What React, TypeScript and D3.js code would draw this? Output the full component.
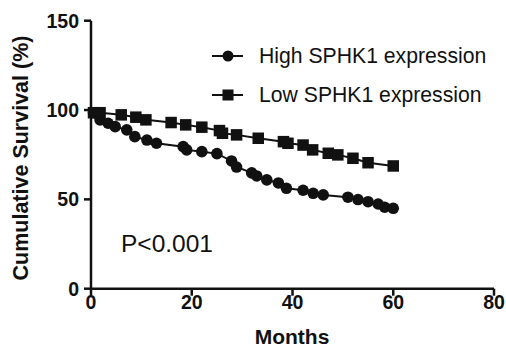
import * as d3 from "d3";

// Kaplan-Meier style survival points
const highMonths = [0.5, 1.8, 3.4, 4.8, 7.1, 8.7, 11.1, 13, 18.3, 19, 22, 25, 27.9, 28.9, 31.9, 32.9, 34.9, 37.2, 38.8, 42.1, 44.1, 46.1, 51, 53, 55, 57, 58.3, 60];
const highValues = [98.5, 94.5, 92.6, 90.7, 88.9, 85.1, 83.2, 81.4, 79.5, 77.7, 76.7, 75.6, 71.5, 68.1, 64.8, 63.1, 60.9, 59.2, 56.2, 55.1, 53.4, 52.5, 51.2, 49.9, 48.7, 47.4, 45.6, 45];

const lowMonths = [0.5, 1.8, 6, 8.9, 10.9, 15.9, 18.8, 22, 25.5, 26.1, 28.9, 33.2, 38.2, 39.1, 42.1, 44, 47.1, 49, 52, 55, 60];
const lowValues = [98.5, 98.5, 97.3, 96, 94.5, 93, 91.7, 90.4, 88.5, 87, 86.1, 84.2, 82.3, 81.4, 80.4, 77.7, 75.8, 74.9, 73, 70.5, 68.7];

const xTicks = [0, 20, 40, 60, 80];
const yTicks = [0, 50, 100, 150];
const legendLabels = ["High SPHK1 expression", "Low SPHK1 expression"];
const pLabel = "P<0.001";

const W = 506;
const H = 349;
const ink = "#111";
const font = "'Liberation Sans', Arial, sans-serif";

export default function App() {
  const x = d3.scaleLinear().domain([0, 80]).range([91, 494]);
  const y = d3.scaleLinear().domain([0, 150]).range([288.7, 20.7]);

  const high = highMonths.map((m, i) => [m, highValues[i]] as [number, number]);
  const low = lowMonths.map((m, i) => [m, lowValues[i]] as [number, number]);

  const line = d3
    .line<[number, number]>()
    .x((d) => x(d[0]))
    .y((d) => y(d[1]));

  const sq = 11.5;

  return (
    <svg
      width={W}
      height={H}
      style={{ position: "absolute", left: 0, top: 0, background: "#fff" }}
      fontFamily={font}
    >
      <rect width={W} height={H} fill="#fff" />

      {/* axes */}
      <line x1={x(0)} x2={x(0)} y1={y(150)} y2={y(0)} stroke={ink} strokeWidth={2.5} />
      <line x1={x(0)} x2={x(80)} y1={y(0)} y2={y(0)} stroke={ink} strokeWidth={2.5} />
      {yTicks.map((t) => (
        <g key={"y" + t}>
          <line x1={x(0) - 7} x2={x(0)} y1={y(t)} y2={y(t)} stroke={ink} strokeWidth={2.5} />
          <text
            x={x(0) - 12}
            y={y(t)}
            dy="0.36em"
            textAnchor="end"
            fontSize={19.5}
            fontWeight="bold"
            fill={ink}
          >
            {t}
          </text>
        </g>
      ))}
      {xTicks.map((t) => (
        <g key={"x" + t}>
          <line x1={x(t)} x2={x(t)} y1={y(0)} y2={y(0) + 7} stroke={ink} strokeWidth={2.5} />
          <text
            x={x(t)}
            y={309}
            textAnchor="middle"
            fontSize={19.5}
            fontWeight="bold"
            fill={ink}
          >
            {t}
          </text>
        </g>
      ))}

      <text x={292} y={344} textAnchor="middle" fontSize={21} fontWeight="bold" fill={ink}>
        Months
      </text>
      <text
        transform={`translate(28,${158}) rotate(-90)`}
        textAnchor="middle"
        fontSize={21.5}
        fontWeight="bold"
        fill={ink}
      >
        Cumulative Survival (%)
      </text>

      {/* series */}
      <path d={line(high) ?? ""} fill="none" stroke={ink} strokeWidth={2} />
      <path d={line(low) ?? ""} fill="none" stroke={ink} strokeWidth={2} />
      {high.map((d, i) => (
        <circle key={"h" + i} cx={x(d[0])} cy={y(d[1])} r={5.8} fill={ink} />
      ))}
      {low.map((d, i) => (
        <rect
          key={"l" + i}
          x={x(d[0]) - sq / 2}
          y={y(d[1]) - sq / 2}
          width={sq}
          height={sq}
          fill={ink}
        />
      ))}

      {/* legend */}
      {legendLabels.map((lab, i) => {
        const ly = 56 + i * 39;
        return (
          <g key={lab}>
            <line x1={212} x2={243} y1={ly} y2={ly} stroke={ink} strokeWidth={2} />
            {i === 0 ? (
              <circle cx={228} cy={ly} r={5.5} fill={ink} />
            ) : (
              <rect x={228 - 5.5} y={ly - 5.5} width={11} height={11} fill={ink} />
            )}
            <text x={259} y={ly + 7} fontSize={21.2} fill={ink}>
              {lab}
            </text>
          </g>
        );
      })}

      <text x={121} y={252} fontSize={24.5} fill={ink}>
        {pLabel}
      </text>
    </svg>
  );
}
